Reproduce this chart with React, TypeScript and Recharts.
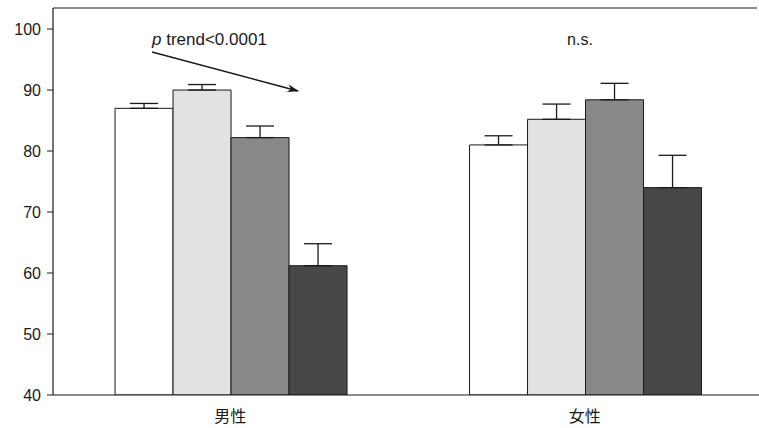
import * as React from 'react';
import { Bar, BarChart, ErrorBar, XAxis, YAxis } from 'recharts';

const groups = ['男性', '女性'];
const q1 = [87.0, 81.0];
const q2 = [90.0, 85.2];
const q3 = [82.2, 88.4];
const q4 = [61.2, 74.0];
const q1Err = [0.8, 1.5];
const q2Err = [0.9, 2.5];
const q3Err = [1.9, 2.7];
const q4Err = [3.6, 5.3];
const yTicks = [40, 50, 60, 70, 80, 90, 100];

const data = groups.map((g, i) => ({
  group: g,
  q1: q1[i],
  q2: q2[i],
  q3: q3[i],
  q4: q4[i],
  e1: [0, q1Err[i]],
  e2: [0, q2Err[i]],
  e3: [0, q3Err[i]],
  e4: [0, q4Err[i]],
}));

const ink = '#1a1a1a';
const font = '"Liberation Sans", Arial, sans-serif';
const fills = ['#ffffff', '#e2e2e2', '#888888', '#474747'];
const keys = ['q1', 'q2', 'q3', 'q4'];
const errKeys = ['e1', 'e2', 'e3', 'e4'];

export default function App() {
  return (
    <div style={{ position: 'absolute', left: 0, top: 0, width: 759, height: 428, background: '#fff', overflow: 'hidden' }}>
      <BarChart
        width={759}
        height={428}
        data={data}
        margin={{ top: 8, right: -3, bottom: 3, left: 0 }}
        barCategoryGap="17.5%"
        barGap={0}
      >
        <defs>
          <marker id="arrowHead" markerWidth="12" markerHeight="8" refX="11" refY="4" orient="auto" markerUnits="userSpaceOnUse">
            <path d="M0,0 L12,4 L0,8 L4,4 Z" fill={ink} />
          </marker>
        </defs>
        <XAxis
          dataKey="group"
          height={30}
          axisLine={{ stroke: ink, strokeWidth: 1.2 }}
          tickLine={false}
          tickMargin={10}
          tick={{ fontSize: 16, fill: ink, fontFamily: '"Noto Sans CJK JP", sans-serif' }}
        />
        <YAxis
          width={53}
          domain={[40, 103.45]}
          ticks={yTicks}
          allowDataOverflow
          axisLine={{ stroke: ink, strokeWidth: 1.2 }}
          tickLine={{ stroke: ink }}
          tickSize={6}
          tickMargin={6}
          tick={{ fontSize: 16, fill: ink, fontFamily: font }}
        />
        {keys.map((k, i) => (
          <Bar key={k} dataKey={k} fill={fills[i]} stroke={ink} strokeWidth={1} isAnimationActive={false}>
            <ErrorBar dataKey={errKeys[i]} direction="y" width={14} stroke={ink} strokeWidth={1.3} />
          </Bar>
        ))}
        <line x1={53} y1={8} x2={757} y2={8} stroke={ink} strokeWidth={1.2} />
        <text x={152} y={45} fontSize={17} fill={ink} fontFamily={font}>
          <tspan fontStyle="italic">p</tspan> trend&lt;0.0001
        </text>
        <line x1={152} y1={52} x2={298} y2={91} stroke={ink} strokeWidth={1.6} markerEnd="url(#arrowHead)" />
        <text x={580} y={45} fontSize={16} fill={ink} fontFamily={font} textAnchor="middle">
          n.s.
        </text>
      </BarChart>
    </div>
  );
}
